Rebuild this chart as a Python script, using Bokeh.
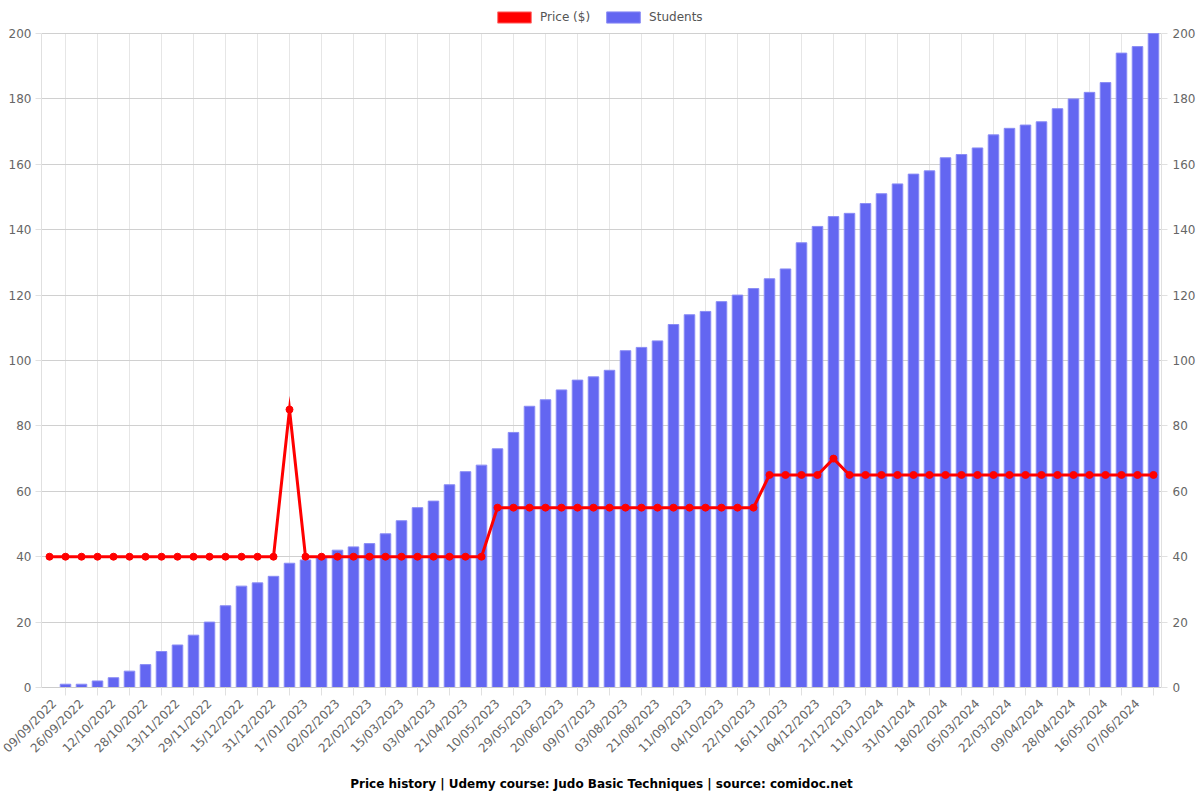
import math
from bokeh.plotting import figure
from bokeh.models import (Range1d, LinearAxis, FixedTicker, Legend, LegendItem,
                          Title, ColumnDataSource)
from bokeh.embed import file_html
from bokeh.resources import INLINE

# Labels shown on the x axis (every other bar)
tick_labels = [
    "09/09/2022", "26/09/2022", "12/10/2022", "28/10/2022", "13/11/2022",
    "29/11/2022", "15/12/2022", "31/12/2022", "17/01/2023", "02/02/2023",
    "22/02/2023", "15/03/2023", "03/04/2023", "21/04/2023", "10/05/2023",
    "29/05/2023", "20/06/2023", "09/07/2023", "03/08/2023", "21/08/2023",
    "11/09/2023", "04/10/2023", "22/10/2023", "16/11/2023", "04/12/2023",
    "21/12/2023", "11/01/2024", "31/01/2024", "18/02/2024", "05/03/2024",
    "22/03/2024", "09/04/2024", "28/04/2024", "16/05/2024", "07/06/2024",
]

students = [
    0, 1, 1, 2, 3, 5, 7, 11, 13, 16,
    20, 25, 31, 32, 34, 38, 39, 40, 42, 43,
    44, 47, 51, 55, 57, 62, 66, 68, 73, 78,
    86, 88, 91, 94, 95, 97, 103, 104, 106, 111,
    114, 115, 118, 120, 122, 125, 128, 136, 141, 144,
    145, 148, 151, 154, 157, 158, 162, 163, 165, 169,
    171, 172, 173, 177, 180, 182, 185, 194, 196, 200,
]

price = [
    40, 40, 40, 40, 40, 40, 40, 40, 40, 40,
    40, 40, 40, 40, 40, 85, 40, 40, 40, 40,
    40, 40, 40, 40, 40, 40, 40, 40, 55, 55,
    55, 55, 55, 55, 55, 55, 55, 55, 55, 55,
    55, 55, 55, 55, 55, 65, 65, 65, 65, 70,
    65, 65, 65, 65, 65, 65, 65, 65, 65, 65,
    65, 65, 65, 65, 65, 65, 65, 65, 65, 65,
]

y_ticks = list(range(0, 201, 20))
title_text = "Price history | Udemy course: Judo Basic Techniques | source: comidoc.net"

n = len(students)
idx = list(range(n))
even = idx[0::2]
odd = idx[1::2]

FONT = "DejaVu Sans"
TICK_COLOR = "#666666"

Y_MAX = 200
PLOT_H = 654          # height of the 0..200 area in pixels
TOP_PAD = 33          # room above it for the legend (kept inside the frame)
y_top = Y_MAX * (PLOT_H + TOP_PAD) / PLOT_H

p = figure(frame_width=1120, frame_height=PLOT_H + TOP_PAD, output_backend="svg",
           toolbar_location=None,
           x_range=Range1d(-0.5, n - 0.5), y_range=Range1d(0, y_top),
           min_border_left=41, min_border_right=39, min_border_top=0,
           min_border_bottom=113)
p.extra_y_ranges = {"students": Range1d(0, y_top)}
p.outline_line_color = None
p.background_fill_color = "white"
p.border_fill_color = "white"

ytick = FixedTicker(ticks=y_ticks)

def style_y(ax, standoff):
    ax.ticker = ytick
    ax.bounds = (0, Y_MAX)
    ax.major_label_text_font = FONT
    ax.major_label_text_font_size = "12px"
    ax.major_label_text_color = TICK_COLOR
    ax.axis_line_color = "#e0e0e0"
    ax.major_tick_line_color = "#e0e0e0"
    ax.major_tick_out = 6
    ax.major_tick_in = 0
    ax.minor_tick_line_color = None
    ax.major_label_standoff = standoff

# Left axis (price)
style_y(p.yaxis[0], 4)

# Right axis (students)
yr = LinearAxis(y_range_name="students")
style_y(yr, 5)
p.add_layout(yr, "right")

# X axis
xa = p.xaxis[0]
xa.ticker = FixedTicker(ticks=even, minor_ticks=odd)
xa.major_label_overrides = {i: lab for i, lab in zip(even, tick_labels)}
xa.major_label_orientation = math.pi / 4
xa.major_label_text_font = FONT
xa.major_label_text_font_size = "12px"
xa.major_label_text_color = TICK_COLOR
xa.major_tick_line_color = None
xa.minor_tick_line_color = "#e0e0e0"
xa.minor_tick_out = 8
xa.minor_tick_in = 0
xa.axis_line_color = "#cccccc"
xa.major_label_standoff = 6

# Grids: horizontal via the grid, vertical lines between label positions
p.ygrid.ticker = ytick
p.ygrid.grid_line_color = "#d0d0d0"
p.xgrid.visible = False
p.segment(x0=odd, y0=[0] * len(odd), x1=odd, y1=[Y_MAX] * len(odd),
          line_color="#e6e6e6", line_width=1, level="underlay")

src = ColumnDataSource(dict(x=idx, students=students, price=price))

bars = p.vbar(x="x", top="students", width=0.66, source=src,
              y_range_name="students", fill_color="#6366F1",
              line_color="#8a8cf5", line_width=1)

p.line(x="x", y="price", source=src, line_color="#ff0000", line_width=3,
       line_join="miter")
p.scatter(x="x", y="price", source=src, size=7, fill_color="#ff0000",
          line_color="#ff0000")

# Hidden renderer used only for the box-style legend swatch of the price series
swatch = p.vbar(x="x", top="price", width=0.5, source=src, fill_color="#ff0000",
                line_color="#ff7070", visible=False)

legend = Legend(items=[LegendItem(label="Price ($)", renderers=[swatch]),
                       LegendItem(label="Students", renderers=[bars])],
                orientation="horizontal", location=(452, PLOT_H + 9),
                glyph_width=42, glyph_height=14, label_text_font=FONT,
                label_text_font_size="12px", label_text_color="#555555",
                label_standoff=5, spacing=12, padding=0, margin=0,
                label_height=14,
                border_line_color=None, background_fill_alpha=0)
p.add_layout(legend, "center")

p.add_layout(Title(text=title_text, align="center", text_font=FONT,
                   text_font_size="12px", text_font_style="bold",
                   text_color="#000000", standoff=22), "below")

open("out.html", "w").write(file_html(p, INLINE))
